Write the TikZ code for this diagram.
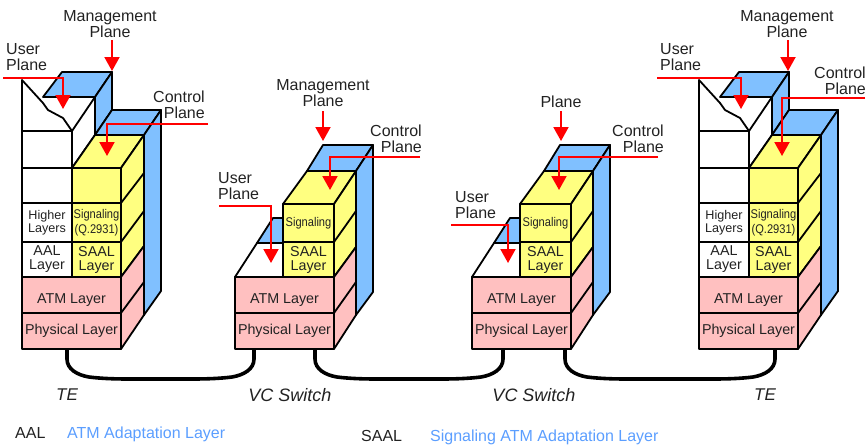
\documentclass[tikz,border=0pt]{standalone}
\usepackage{fontspec}
\usepackage{graphicx}
\setmainfont{Liberation Sans}
\usetikzlibrary{arrows.meta}
\definecolor{ylw}{HTML}{FFFF80}
\definecolor{pnk}{HTML}{FFC0C0}
\definecolor{blu}{HTML}{80C0FF}
\definecolor{txt}{HTML}{222222}
\definecolor{legblue}{HTML}{5B9EFF}
\tikzset{
  x=1pt,y=-1pt,
  edge/.style={draw=black,line width=1.8pt,line join=round},
  layerbox/.style={edge,anchor=north west,inner sep=0pt,outer sep=0pt,align=center,text=txt,
    font=\fontsize{14.3}{14}\selectfont},
  smallbox/.style={layerbox,font=\fontsize{12.6}{13.5}\selectfont},
  planelabel/.style={inner sep=0pt,align=center,text=txt,font=\fontsize{16}{15.5}\selectfont},
  redarrow/.style={draw=red,line width=2pt,-{Triangle[width=15pt,length=14pt]}},
  link/.style={draw=black,line width=3.6pt,line cap=butt},
  devlabel/.style={inner sep=0pt,text=txt,font=\fontsize{18}{18}\selectfont\itshape},
  telabel/.style={devlabel,font=\fontsize{17}{18}\selectfont\itshape},
  leglabel/.style={inner sep=0pt,anchor=base west,text=txt,font=\fontsize{16}{16}\selectfont},
  legtext/.style={leglabel,text=legblue},
}
\newcommand{\fullstack}[2]{%
\begin{scope}[shift={(#2,0)}]
  \path[edge,fill=blu] (43,97)--(62,72)--(112,72)--(95,97)--cycle;
  \path[edge,fill=blu] (95,97)--(112,72)--(112,110)--(95,135)--cycle;
  \path[edge,fill=blu] (95,135)--(112,110)--(161,110)--(144,135)--cycle;
  \path[edge,fill=blu] (144,135)--(161,110)--(161,291)--(144,315)--cycle;
  \path[edge,fill=white] (22,131)--(22,80)--(43,103)--(48,110)--(63,118)--(72,131)--cycle;
  \path[edge] (72,131)--(95,97);
  \path[edge] (72,168)--(95,135);
  \path[edge,fill=ylw] (72,168)--(95,135)--(144,135)--(121,168)--cycle;
  \path[edge,fill=ylw] (121,168)--(144,135)--(144,246)--(121,277)--cycle;
  \path[edge,fill=pnk] (121,277)--(144,246)--(144,315)--(121,349)--cycle;
  \path[edge] (121,203)--(144,173);
  \path[edge] (121,242)--(144,211);
  \path[edge] (121,313)--(144,282);
  \node[layerbox,fill=white,minimum width=50pt,minimum height=37pt] (#1w1) at (22,131) {};
  \node[layerbox,fill=white,minimum width=50pt,minimum height=35pt] (#1w2) at (22,168) {};
  \node[smallbox,fill=white,minimum width=50pt,minimum height=39pt] (#1hi) at (22,203) {Higher\\Layers};
  \node[layerbox,fill=white,minimum width=50pt,minimum height=35pt] (#1aal) at (22,242) {AAL\\Layer};
  \node[layerbox,fill=ylw,minimum width=49pt,minimum height=35pt] (#1y1) at (72,168) {};
  \node[smallbox,fill=ylw,minimum width=49pt,minimum height=39pt] (#1sig) at (72,203) {\scalebox{.88}[1]{Signaling}\\[2pt]\scalebox{.88}[1]{(Q.2931)}};
  \node[layerbox,fill=ylw,minimum width=49pt,minimum height=35pt] (#1saal) at (72,242) {SAAL\\Layer};
  \node[layerbox,fill=pnk,minimum width=99pt,minimum height=36pt] (#1atm) at (22,277) {\raisebox{-8pt}[0pt][0pt]{ATM Layer}};
  \node[layerbox,fill=pnk,minimum width=99pt,minimum height=36pt] (#1phy) at (22,313) {Physical Layer};
\end{scope}}
\newcommand{\switchstack}[2]{%
\begin{scope}[shift={(#2,0)}]
  \path[edge,fill=blu] (307,171)--(323,145)--(373,145)--(356,171)--cycle;
  \path[edge,fill=blu] (356,171)--(373,145)--(373,292)--(356,315)--cycle;
  \path[edge,fill=ylw] (283,204)--(307,171)--(356,171)--(334,204)--cycle;
  \path[edge,fill=ylw] (334,204)--(356,171)--(356,247)--(334,277)--cycle;
  \path[edge,fill=pnk] (334,277)--(356,247)--(356,315)--(334,349)--cycle;
  \path[edge] (334,242)--(356,211);
  \path[edge] (334,313)--(356,282);
  \path[edge,fill=blu] (257,243)--(273,218)--(283,218)--(283,243)--cycle;
  \path[edge,fill=white] (235,277)--(257,243)--(283,243)--(283,277)--cycle;
  \node[smallbox,fill=ylw,minimum width=51pt,minimum height=38pt] (#1sig) at (283,204) {\scalebox{.88}[1]{Signaling}};
  \node[layerbox,fill=ylw,minimum width=51pt,minimum height=35pt] (#1saal) at (283,242) {SAAL\\Layer};
  \node[layerbox,fill=pnk,minimum width=99pt,minimum height=36pt] (#1atm) at (235,277) {\raisebox{-8pt}[0pt][0pt]{ATM Layer}};
  \node[layerbox,fill=pnk,minimum width=99pt,minimum height=36pt] (#1phy) at (235,313) {Physical Layer};
\end{scope}}
\begin{document}
\begin{tikzpicture}
\useasboundingbox (0,0) rectangle (868,445);
\fullstack{a}{0}
\switchstack{b}{0}
\switchstack{c}{237}
\fullstack{d}{677}
% links
\foreach \s/\t/\p/\q in {aphy/bphy/45/19, bphy/cphy/80/31, cphy/dphy/93/76}{
  \draw[link] ([xshift=\p pt]\s.south west) -- ++(0,10)
    .. controls +(0,10) and +(-12,-2) .. ++(22,18)
    .. controls +(12,1.5) and +(-15,0) .. ++(40,2)
    -- ([xshift=\q pt-62pt,yshift=-30pt]\t.south west)
    .. controls +(15,0) and +(-12,1.5) .. ([xshift=\q pt-22pt,yshift=-28pt]\t.south west)
    .. controls +(12,-2) and +(0,10) .. ([xshift=\q pt,yshift=-10pt]\t.south west)
    -- ([xshift=\q pt]\t.south west);
}
% labels and arrows
\node[planelabel] (am) at (110,24) {Management\\Plane};
\node[planelabel,align=left,anchor=west] (au) at (6,57) {User\\Plane};
\node[planelabel,align=right,anchor=east] (ac) at (205,105) {Control\\Plane};
\coordinate (ams) at (112,40);\coordinate (amt) at (112,71);
\coordinate (aus) at (3,78);\coordinate (aut) at (63,109);
\coordinate (acs) at (208,124);\coordinate (act) at (107,156);
\draw[redarrow] (ams) -- (amt);
\draw[redarrow] (aus) -| (aut);
\draw[redarrow] (acs) -| (act);

\node[planelabel] (bm) at (323,93) {Management\\Plane};
\node[planelabel,align=right,anchor=east] (bc) at (422,139) {Control\\Plane};
\node[planelabel,align=left,anchor=west] (bu) at (218,186) {User\\Plane};
\coordinate (bms) at (323,111);\coordinate (bmt) at (323,141);
\coordinate (bcs) at (420,157);\coordinate (bct) at (330,190);
\coordinate (bus) at (219,206);\coordinate (but) at (271,263);
\draw[redarrow] (bms) -- (bmt);
\draw[redarrow] (bcs) -| (bct);
\draw[redarrow] (bus) -| (but);

\node[planelabel] (cm) at (561,102) {Plane};
\node[planelabel,align=right,anchor=east] (cc) at (664,139) {Control\\Plane};
\node[planelabel,align=left,anchor=west] (cu) at (455,205) {User\\Plane};
\coordinate (cms) at (561,111);\coordinate (cmt) at (561,141);
\coordinate (ccs) at (658,157);\coordinate (cct) at (559,190);
\coordinate (cus) at (451,225);\coordinate (cut) at (508,263);
\draw[redarrow] (cms) -- (cmt);
\draw[redarrow] (ccs) -| (cct);
\draw[redarrow] (cus) -| (cut);

\node[planelabel] (dm) at (787,24) {Management\\Plane};
\node[planelabel,align=left,anchor=west] (du) at (660,57) {User\\Plane};
\node[planelabel,align=right,anchor=east] (dc) at (866,81) {Control\\Plane};
\coordinate (dms) at (788,40);\coordinate (dmt) at (788,71);
\coordinate (dus) at (657,78);\coordinate (dut) at (741,109);
\coordinate (dcs) at (865,98);\coordinate (dct) at (782,156);
\draw[redarrow] (dms) -- (dmt);
\draw[redarrow] (dus) -| (dut);
\draw[redarrow] (dcs) -| (dct);

\node[telabel] (te1) at (67,395) {TE};
\node[devlabel] (vc1) at (290,395) {VC Switch};
\node[devlabel] (vc2) at (534,395) {VC Switch};
\node[telabel] (te2) at (765,395) {TE};

\node[leglabel] (l1) at (15,438) {AAL};
\node[legtext] (l2) at (67,438) {ATM Adaptation Layer};
\node[leglabel] (l3) at (361,441) {SAAL};
\node[legtext] (l4) at (430,441) {Signaling ATM Adaptation Layer};
\end{tikzpicture}
\end{document}
